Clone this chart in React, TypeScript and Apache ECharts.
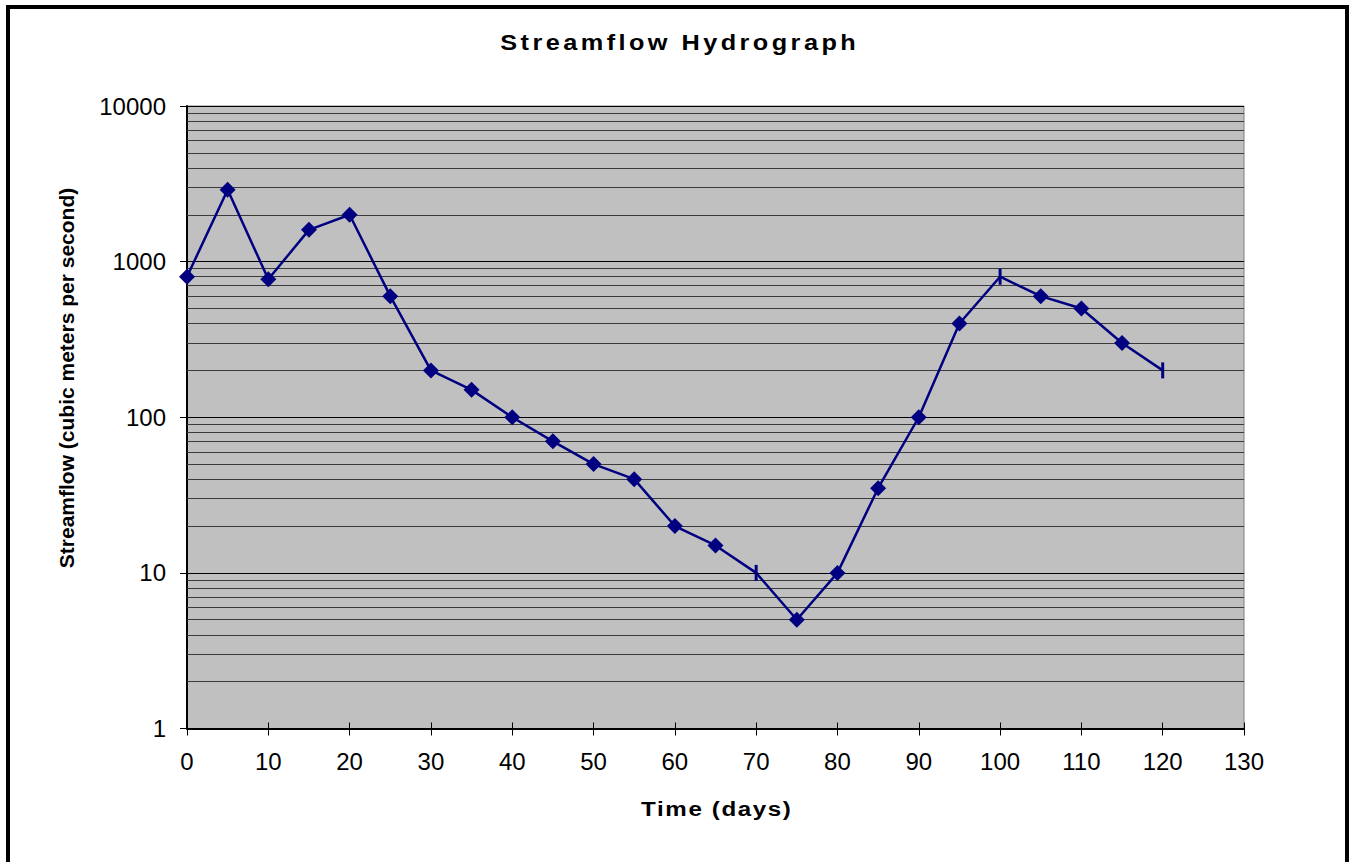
import React, { useEffect, useRef } from "react";
import * as echarts from "echarts";

const TITLE = "Streamflow Hydrograph";
const X_NAME = "Time (days)";
const Y_NAME = "Streamflow (cubic meters per second)";

const days = [0, 5, 10, 15, 20, 25, 30, 35, 40, 45, 50, 55, 60, 65, 70, 75, 80, 85, 90, 95, 100, 105, 110, 115, 120];
const flows = [800, 2900, 770, 1600, 2000, 600, 200, 150, 100, 70, 50, 40, 20, 15, 10, 5, 10, 35, 100, 400, 800, 600, 500, 300, 200];
const dashMarkerDays = [70, 100, 120];

const xTicks = [0, 130, 10]; // min, max, interval
const yTicks = [1, 10, 100, 1000, 10000];

const minorGridValues: number[] = [];
for (let d = 0; d < yTicks.length - 1; d++) {
  for (let k = 2; k <= 9; k++) minorGridValues.push(k * yTicks[d]);
}

const FONT = "'Liberation Sans', Arial, sans-serif";

export default function App() {
  const ref = useRef<HTMLDivElement>(null);

  useEffect(() => {
    if (!ref.current) return;
    const chart = echarts.init(ref.current, undefined, { renderer: "svg" });

    const seriesData = days.map((d, i) => {
      if (dashMarkerDays.includes(d)) {
        return { value: [d, flows[i]], symbol: "rect", symbolSize: [3, 16] };
      }
      return { value: [d, flows[i]] };
    });

    chart.setOption({
      animation: false,
      backgroundColor: "#ffffff",
      grid: {
        left: 187,
        top: 106,
        right: 105,
        bottom: 133.5,
        show: true,
        backgroundColor: "#c0c0c0",
        borderColor: "#808080",
        borderWidth: 1,
      },
      xAxis: [
        {
          type: "value",
          position: "bottom",
          min: xTicks[0],
          max: xTicks[1],
          interval: xTicks[2],
          axisLine: { show: true, lineStyle: { color: "#000", width: 2 } },
          axisTick: { show: true, length: 7, lineStyle: { color: "#000", width: 1 } },
          splitLine: { show: false },
          axisLabel: {
            color: "#000",
            fontSize: 24,
            fontFamily: FONT,
            margin: 21,
          },
        },
        {
          type: "value",
          position: "bottom",
          min: xTicks[0],
          max: xTicks[1],
          interval: xTicks[2],
          axisLine: { show: false },
          axisTick: { show: true, inside: true, length: 6, lineStyle: { color: "#000", width: 1 } },
          splitLine: { show: false },
          axisLabel: { show: false },
        },
      ],
      yAxis: {
        type: "log",
        logBase: 10,
        min: yTicks[0],
        max: yTicks[yTicks.length - 1],
        axisLine: { show: true, lineStyle: { color: "#000", width: 2 } },
        axisTick: { show: true, length: 7, lineStyle: { color: "#000", width: 1 } },
        splitLine: { show: true, lineStyle: { color: "#000", width: 1 } },
        axisLabel: {
          color: "#000",
          fontSize: 24,
          fontFamily: FONT,
          margin: 21,
          formatter: (v: number) => String(Math.round(v)),
        },
      },
      graphic: [
        {
          type: "rect",
          shape: { x: 8, y: 7, width: 1339, height: 900 },
          style: { fill: "none", stroke: "#000", lineWidth: 4 },
          silent: true,
        },
        {
          type: "text",
          x: 679.7,
          y: 43,
          scaleX: 1.15,
          style: {
            text: TITLE,
            fontSize: 22,
            fontWeight: "bold",
            fontFamily: FONT,
            fill: "#000",
            align: "center",
            verticalAlign: "middle",
          },
        },
        {
          type: "text",
          x: 716.8,
          y: 809,
          scaleX: 1.15,
          style: {
            text: X_NAME,
            fontSize: 21,
            fontWeight: "bold",
            fontFamily: FONT,
            fill: "#000",
            align: "center",
            verticalAlign: "middle",
          },
        },
        {
          type: "text",
          x: 66.5,
          y: 378,
          rotation: Math.PI / 2,
          style: {
            text: Y_NAME,
            fontSize: 21,
            fontWeight: "bold",
            fontFamily: FONT,
            fill: "#000",
            align: "center",
            verticalAlign: "middle",
          },
        },
      ],
      series: [
        {
          type: "line",
          xAxisIndex: 0,
          data: seriesData,
          z: 3,
          symbol: "diamond",
          symbolSize: 16,
          showAllSymbol: true,
          lineStyle: { color: "#000080", width: 2.5 },
          itemStyle: { color: "#000080" },
          markLine: {
            z: 1,
            silent: true,
            symbol: ["none", "none"],
            label: { show: false },
            lineStyle: { color: "#3a3a3a", width: 1, type: "solid" },
            emphasis: { disabled: true },
            data: minorGridValues.map((v) => ({ yAxis: v })),
          },
        },
      ],
    });

    const applySpacing = () => {
      const svg = ref.current?.querySelector("svg");
      if (!svg) return;
      svg.querySelectorAll("text").forEach((t) => {
        const s = t.textContent;
        if (s === TITLE) t.setAttribute("letter-spacing", "3");
        else if (s === X_NAME) t.setAttribute("letter-spacing", "1.4");
      });
    };
    applySpacing();
    chart.on("finished", applySpacing);

    return () => {
      chart.dispose();
    };
  }, []);

  return (
    <div
      ref={ref}
      style={{ position: "absolute", left: 0, top: 0, width: 1349, height: 862 }}
    />
  );
}
